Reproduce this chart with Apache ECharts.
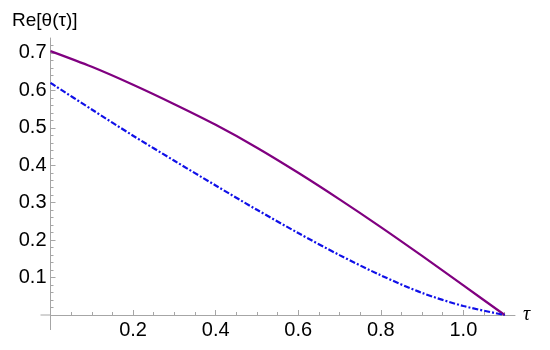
<!DOCTYPE html>
<html>
<head>
<meta charset="utf-8">
<script src="https://cdn.jsdelivr.net/npm/echarts@6/dist/echarts.min.js"></script>
<style>
html,body{margin:0;padding:0;background:#fff;}
#main{width:550px;height:350px;}
</style>
</head>
<body>
<div id="main"></div>
<script>
// ---- data ----
var tau = [0, 0.1, 0.2, 0.3, 0.4, 0.5, 0.6, 0.7, 0.8, 0.9, 1.0, 1.1];
var purpleVals = [0.705, 0.663, 0.615, 0.563, 0.508, 0.447, 0.380, 0.309, 0.235, 0.158, 0.079, 0.0];
var blueVals   = [0.620, 0.549, 0.479, 0.412, 0.346, 0.281, 0.219, 0.160, 0.106, 0.059, 0.024, 0.0];

var xMajorTicks = [0.2, 0.4, 0.6, 0.8, 1.0];
var xMinorTicks = [0.05, 0.1, 0.15, 0.25, 0.3, 0.35, 0.45, 0.5, 0.55, 0.65, 0.7, 0.75, 0.85, 0.9, 0.95, 1.05, 1.1];
var yMajorTicks = [0.1, 0.2, 0.3, 0.4, 0.5, 0.6, 0.7];
var yMinorTicks = [0.02, 0.04, 0.06, 0.08, 0.12, 0.14, 0.16, 0.18, 0.22, 0.24, 0.26, 0.28,
                   0.32, 0.34, 0.36, 0.38, 0.42, 0.44, 0.46, 0.48, 0.52, 0.54, 0.56, 0.58,
                   0.62, 0.64, 0.66, 0.68, 0.72];

var yTitle = 'Re[\u03B8(\u03C4)]';
var xTitle = '\u03C4';

function pairs(xs, ys) { return xs.map(function (x, i) { return [x, ys[i]]; }); }

var axisColor = '#a6a6a6';
var font = '"Liberation Sans", Arial, sans-serif';

var chart = echarts.init(document.getElementById('main'), null, {renderer: 'canvas'});

var option = {
  animation: false,
  backgroundColor: '#ffffff',
  grid: {left: 50.5, right: 35, top: 38, bottom: 35, containLabel: false},
  xAxis: [{
    type: 'value', min: 0, max: 1.125,
    axisLine: {show: true, onZero: false, lineStyle: {color: axisColor, width: 1}},
    axisTick: {show: true, inside: true, length: 5, customValues: xMajorTicks, lineStyle: {color: axisColor}},
    axisLabel: {show: true, customValues: xMajorTicks, color: '#000', fontSize: 20, fontFamily: font, margin: 5,
      formatter: function (v) { return v.toFixed(1); }},
    splitLine: {show: false}
  }, {
    type: 'value', min: 0, max: 1.125, position: 'bottom',
    axisLine: {show: false},
    axisTick: {show: true, inside: true, length: 3, customValues: xMinorTicks, lineStyle: {color: axisColor}},
    axisLabel: {show: false},
    splitLine: {show: false}
  }],
  yAxis: [{
    type: 'value', min: 0, max: 0.74,
    axisLine: {show: true, onZero: false, lineStyle: {color: axisColor, width: 1}},
    axisTick: {show: true, inside: true, length: 5, customValues: yMajorTicks, lineStyle: {color: axisColor}},
    axisLabel: {show: true, customValues: yMajorTicks, color: '#000', fontSize: 20, fontFamily: font, margin: 4,
      formatter: function (v) { return v.toFixed(1); }},
    splitLine: {show: false}
  }, {
    type: 'value', min: 0, max: 0.74, position: 'left', offset: 0,
    axisLine: {show: false},
    axisTick: {show: true, inside: true, length: 3, customValues: yMinorTicks, lineStyle: {color: axisColor}},
    axisLabel: {show: false},
    splitLine: {show: false}
  }],
  series: [{
    type: 'line', xAxisIndex: 0, yAxisIndex: 0,
    data: pairs(tau, purpleVals),
    smooth: 0.3, showSymbol: false, symbol: 'none',
    lineStyle: {color: '#800080', width: 2.2},
    z: 3
  }, {
    type: 'line', xAxisIndex: 0, yAxisIndex: 0,
    data: pairs(tau, blueVals),
    smooth: 0.3, showSymbol: false, symbol: 'none',
    lineStyle: {color: '#1010e8', width: 2.2, type: [6, 2, 2, 2]},
    z: 3
  }]
};
chart.setOption(option);

// axis extensions past the origin and axis titles, positioned through the axes' scales
var o = chart.convertToPixel({xAxisIndex: 0, yAxisIndex: 0}, [0, 0]);
var xEnd = chart.convertToPixel({xAxisIndex: 0}, 1.125);
var yTop = chart.convertToPixel({yAxisIndex: 0}, 0.74);
chart.setOption({
  graphic: [
    {type: 'line', shape: {x1: o[0] - 10, y1: o[1], x2: o[0], y2: o[1]}, style: {stroke: axisColor, lineWidth: 1}},
    {type: 'line', shape: {x1: o[0], y1: o[1], x2: o[0], y2: o[1] + 15}, style: {stroke: axisColor, lineWidth: 1}},
    {type: 'text', x: xEnd + 8, y: o[1], style: {text: xTitle, font: 'italic 20px "Liberation Serif", "DejaVu Serif", serif', fill: '#000', textVerticalAlign: 'middle'}},
    {type: 'text', x: 12, y: yTop - 17, style: {text: yTitle, font: '19px "Liberation Sans", Arial, sans-serif', fill: '#000', textVerticalAlign: 'middle'}}
  ]
});
</script>
</body>
</html>
